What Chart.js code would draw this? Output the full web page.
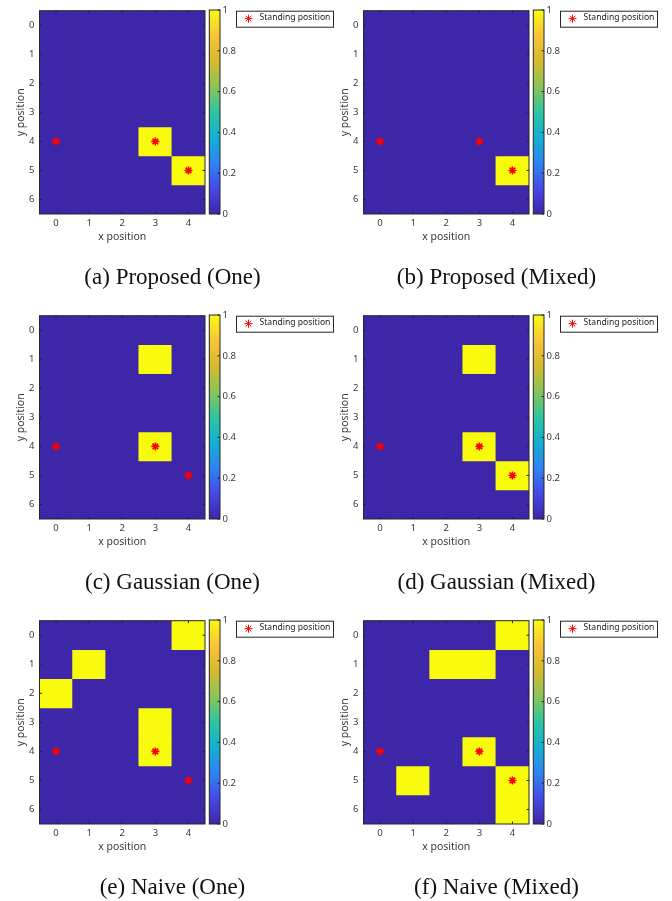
<!DOCTYPE html>
<html>
<head>
<meta charset="utf-8">
<script src="https://cdn.jsdelivr.net/npm/chart.js@4/dist/chart.umd.min.js"></script>
<style>
  body { margin: 0; background: #fff; }
  #page { position: relative; width: 672px; height: 901px; overflow: hidden; }
  .panel { position: absolute; width: 336px; height: 300px; }
  .panel canvas { position: absolute; left: 0; top: 0; }
  .caption {
    position: absolute; left: 0; top: 264px; width: 345px; height: 26px;
    line-height: 26px; text-align: center;
    font-family: "Liberation Serif", "Times New Roman", serif; font-size: 23px; color: #111;
  }
</style>
</head>
<body>
<div id="page"></div>
<script>
// axes
const xLabels = ['0', '1', '2', '3', '4'];
const yTicks = [0, 1, 2, 3, 4, 5, 6];
const cbTicks = [0, 0.2, 0.4, 0.6, 0.8, 1];
const cbRange = [0, 1];

// standing positions (same in every panel)
const standingX = [0, 3, 4];
const standingY = [4, 4, 5];

// heat maps, one row per y position (0..6), one value per x position (0..4)
const proposedOne = [
    [0, 0, 0, 0, 0],
    [0, 0, 0, 0, 0],
    [0, 0, 0, 0, 0],
    [0, 0, 0, 0, 0],
    [0, 0, 0, 1, 0],
    [0, 0, 0, 0, 1],
    [0, 0, 0, 0, 0]
];
const proposedMixed = [
    [0, 0, 0, 0, 0],
    [0, 0, 0, 0, 0],
    [0, 0, 0, 0, 0],
    [0, 0, 0, 0, 0],
    [0, 0, 0, 0, 0],
    [0, 0, 0, 0, 1],
    [0, 0, 0, 0, 0]
];
const gaussianOne = [
    [0, 0, 0, 0, 0],
    [0, 0, 0, 1, 0],
    [0, 0, 0, 0, 0],
    [0, 0, 0, 0, 0],
    [0, 0, 0, 1, 0],
    [0, 0, 0, 0, 0],
    [0, 0, 0, 0, 0]
];
const gaussianMixed = [
    [0, 0, 0, 0, 0],
    [0, 0, 0, 1, 0],
    [0, 0, 0, 0, 0],
    [0, 0, 0, 0, 0],
    [0, 0, 0, 1, 0],
    [0, 0, 0, 0, 1],
    [0, 0, 0, 0, 0]
];
const naiveOne = [
    [0, 0, 0, 0, 1],
    [0, 1, 0, 0, 0],
    [1, 0, 0, 0, 0],
    [0, 0, 0, 1, 0],
    [0, 0, 0, 1, 0],
    [0, 0, 0, 0, 0],
    [0, 0, 0, 0, 0]
];
const naiveMixed = [
    [0, 0, 0, 0, 1],
    [0, 0, 1, 1, 0],
    [0, 0, 0, 0, 0],
    [0, 0, 0, 0, 0],
    [0, 0, 0, 1, 0],
    [0, 1, 0, 0, 1],
    [0, 0, 0, 0, 1]
];

const captions = [
    '(a) Proposed (One)', '(b) Proposed (Mixed)',
    '(c) Gaussian (One)', '(d) Gaussian (Mixed)',
    '(e) Naive (One)', '(f) Naive (Mixed)'
];
const grids = [proposedOne, proposedMixed, gaussianOne, gaussianMixed, naiveOne, naiveMixed];

// parula (old matlab default)
const parulaPos = [0, 0.125, 0.25, 0.375, 0.5, 0.625, 0.75, 0.875, 1];
const parulaColors = ['#3E26A8', '#4549E6', '#2E84F2', '#14AFD2', '#2EC4A0', '#8BC458', '#D4BA30', '#FAC33A', '#F9FB0E'];

function hexRgb(h) {
    return [1, 3, 5].map(i => parseInt(h.slice(i, i + 2), 16));
}
function cmap(v) {
    for (let i = 1; i < parulaPos.length; i++) {
        if (v <= parulaPos[i]) {
            const t = (v - parulaPos[i - 1]) / (parulaPos[i] - parulaPos[i - 1]);
            const a = hexRgb(parulaColors[i - 1]), b = hexRgb(parulaColors[i]);
            const c = a.map((x, k) => Math.round(x + (b[k] - x) * t));
            return `rgb(${c[0]},${c[1]},${c[2]})`;
        }
    }
    return parulaColors[parulaColors.length - 1];
}

const AXIS = '#262626';
const TEXT = '#3a3a3a';
Chart.defaults.font.family = '"Noto Sans", "DejaVu Sans", sans-serif';
Chart.defaults.color = TEXT;
Chart.defaults.animation = false;

// box + inward ticks like matlab
const framePlugin = {
    id: 'frame',
    afterDatasetsDraw(chart, args, opts) {
        const { ctx, chartArea: a } = chart;
        const len = 2.5;
        ctx.save();
        ctx.strokeStyle = AXIS;
        ctx.lineWidth = 1;
        ctx.beginPath();
        if (opts.xTicks) {
            const xs = chart.scales.x;
            xs.ticks.forEach((t, i) => {
                const px = xs.getPixelForTick(i);
                ctx.moveTo(px, a.bottom); ctx.lineTo(px, a.bottom - len);
                ctx.moveTo(px, a.top); ctx.lineTo(px, a.top + len);
            });
        }
        const ys = chart.scales.y;
        ys.ticks.forEach(t => {
            const py = ys.getPixelForValue(t.value);
            if (opts.yLeft) { ctx.moveTo(a.left, py); ctx.lineTo(a.left + len, py); }
            ctx.moveTo(a.right, py); ctx.lineTo(a.right - len, py);
        });
        ctx.stroke();
        ctx.strokeRect(a.left, a.top, a.width, a.height);
        ctx.restore();
    }
};

// legend box to the right of the colorbar
const boxLegend = {
    id: 'boxLegend',
    afterDraw(chart, args, opts) {
        if (!opts.show) return;
        const ds = chart.data.datasets[0];
        const { ctx, chartArea: a } = chart;
        const x = a.right + 31, y = a.top, w = 97, h = 16;
        ctx.save();
        ctx.fillStyle = '#fff';
        ctx.fillRect(x, y, w, h);
        ctx.strokeStyle = AXIS;
        ctx.lineWidth = 1;
        ctx.strokeRect(x + 0.5, y + 0.5, w, h);
        ctx.strokeStyle = ds.borderColor;
        ctx.fillStyle = ds.borderColor;
        Chart.helpers.drawPoint(ctx, { pointStyle: ds.pointStyle, radius: ds.pointRadius, rotation: 0, borderWidth: ds.pointBorderWidth }, x + 12.5, y + h / 2);
        ctx.fillStyle = '#222';
        ctx.font = '8.6px "Noto Sans", sans-serif';
        ctx.textBaseline = 'middle';
        ctx.fillText(ds.label, x + 23.5, y + h / 2 - 1);
        ctx.restore();
    }
};

const page = document.getElementById('page');
const colLeft = [0, 324];
const rowTop = [0, 304.7, 610];

grids.forEach((grid, p) => {
    const panel = document.createElement('div');
    panel.className = 'panel';
    panel.style.left = colLeft[p % 2] + 'px';
    panel.style.top = rowTop[Math.floor(p / 2)] + 'px';
    const mapCanvas = document.createElement('canvas');
    mapCanvas.width = 336; mapCanvas.height = 250;
    const cbCanvas = document.createElement('canvas');
    cbCanvas.width = 336; cbCanvas.height = 250;
    const cap = document.createElement('div');
    cap.className = 'caption';
    cap.textContent = captions[p];
    panel.appendChild(mapCanvas);
    panel.appendChild(cbCanvas);
    panel.appendChild(cap);
    page.appendChild(panel);

    const cellSets = grid.map((row, r) => ({
        type: 'bar',
        data: row.map(() => [r - 0.5, r + 0.5]),
        backgroundColor: row.map(v => cmap(v)),
        borderWidth: 0,
        barPercentage: 1,
        categoryPercentage: 1,
        grouped: false,
        order: 1
    }));

    new Chart(mapCanvas, {
        type: 'bar',
        data: {
            labels: xLabels,
            datasets: [{
                type: 'line',
                label: 'Standing position',
                data: standingX.map((x, i) => ({ x: String(x), y: standingY[i] })),
                showLine: false,
                pointStyle: 'star',
                pointRadius: 4,
                pointBorderWidth: 1.6,
                borderColor: '#FF0000',
                backgroundColor: '#FF0000',
                order: 0
            }, ...cellSets]
        },
        options: {
            responsive: false,
            layout: { padding: { left: 14.4, right: 131, top: 10, bottom: 6.4 } },
            plugins: {
                legend: { display: false },
                tooltip: { enabled: false },
                frame: { xTicks: true, yLeft: true },
                boxLegend: { show: true }
            },
            scales: {
                x: {
                    type: 'category',
                    offset: true,
                    grid: { display: false, drawTicks: false },
                    border: { display: false },
                    ticks: { padding: 3.5, maxRotation: 0, autoSkip: false, font: { size: 9.5 } },
                    title: { display: true, text: 'x position', padding: 0, font: { size: 10.5 } },
                    afterFit: s => { s.height = 29.6; }
                },
                y: {
                    type: 'linear',
                    reverse: true,
                    min: -0.5,
                    max: 6.5,
                    afterBuildTicks: s => { s.ticks = yTicks.map(v => ({ value: v })); },
                    grid: { display: false, drawTicks: false },
                    border: { display: false },
                    ticks: { padding: 5, font: { size: 9.5 }, callback: v => String(v) },
                    title: { display: true, text: 'y position', padding: 0, font: { size: 10.5 } },
                    afterFit: s => { s.width = 25.1; }
                }
            }
        },
        plugins: [framePlugin, boxLegend]
    });

    new Chart(cbCanvas, {
        type: 'bar',
        data: {
            labels: [''],
            datasets: [{
                data: [cbRange],
                backgroundColor: c => {
                    const ch = c.chart;
                    if (!ch.chartArea) return cmap(0);
                    const ys = ch.scales.y;
                    const g = ch.ctx.createLinearGradient(0, ys.getPixelForValue(cbRange[0]), 0, ys.getPixelForValue(cbRange[1]));
                    parulaPos.forEach((pos, i) => g.addColorStop(pos, parulaColors[i]));
                    return g;
                },
                borderWidth: 0,
                barPercentage: 1,
                categoryPercentage: 1
            }]
        },
        options: {
            responsive: false,
            layout: { padding: { left: 209.3, right: 86, top: 10, bottom: 36 } },
            plugins: {
                legend: { display: false },
                tooltip: { enabled: false },
                frame: { xTicks: false, yLeft: false },
                boxLegend: { show: false }
            },
            scales: {
                x: { display: false },
                y: {
                    position: 'right',
                    min: cbRange[0],
                    max: cbRange[1],
                    afterBuildTicks: s => { s.ticks = cbTicks.map(v => ({ value: v })); },
                    grid: { display: false, drawTicks: false },
                    border: { display: false },
                    ticks: { padding: 2.5, font: { size: 9.5 }, callback: v => String(v) },
                    afterFit: s => { s.width = 30; }
                }
            }
        },
        plugins: [framePlugin, boxLegend]
    });
});
</script>
</body>
</html>
